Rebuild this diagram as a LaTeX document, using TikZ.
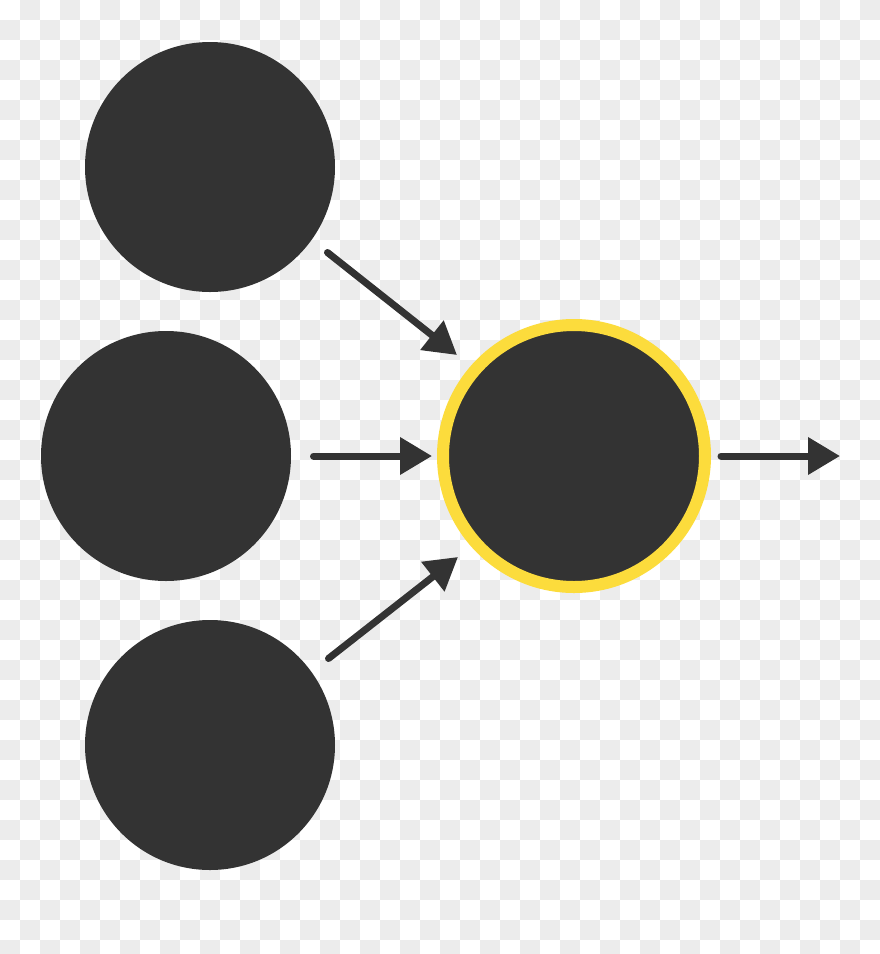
\documentclass[tikz,border=0pt]{standalone}
\usetikzlibrary{arrows.meta}
\definecolor{dark}{HTML}{333333}
\definecolor{ring}{HTML}{FCDC3C}
\definecolor{check}{RGB}{236,236,236}
\tikzset{
  neuron/.style={circle, fill=dark, inner sep=0pt, minimum size=250pt},
  outneuron/.style={circle, fill=dark, draw=ring, line width=12pt, inner sep=0pt, minimum size=262pt},
  arr/.style={draw=dark, line width=7pt, line cap=round, -{Triangle[length=32pt,width=36pt]}},
}
\begin{document}
\begin{tikzpicture}[x=1pt,y=-1pt]
\useasboundingbox (0,0) rectangle (880,954);
\begin{scope}
\clip (0,0) rectangle (880,954);
\fill[white] (0,0) rectangle (880,954);
\foreach \j in {0,...,47}{
  \pgfmathtruncatemacro\s{mod(\j+1,2)}
  \pgfmathtruncatemacro\t{\s+2}
  \foreach \i in {\s,\t,...,43}{
    \fill[check] (\i*20,\j*20) rectangle ++(20,20);
  }
}
\end{scope}
\node[neuron] (a) at (210,167) {};
\node[neuron] (b) at (166,456) {};
\node[neuron] (c) at (210,745) {};
\node[outneuron] (o) at (574,456) {};
\coordinate (out) at (840,456);
\draw[arr] ([shift={(117.5,85.5)}]a.center) -- ([shift={(-117,-101)}]o.center);
\draw[arr] ([shift={(147.5,0)}]b.center) -- ([shift={(-142,0)}]o.center);
\draw[arr] ([shift={(118.5,-86.5)}]c.center) -- ([shift={(-116,101)}]o.center);
\draw[arr] ([shift={(147,0)}]o.center) -- (out);
\end{tikzpicture}
\end{document}
